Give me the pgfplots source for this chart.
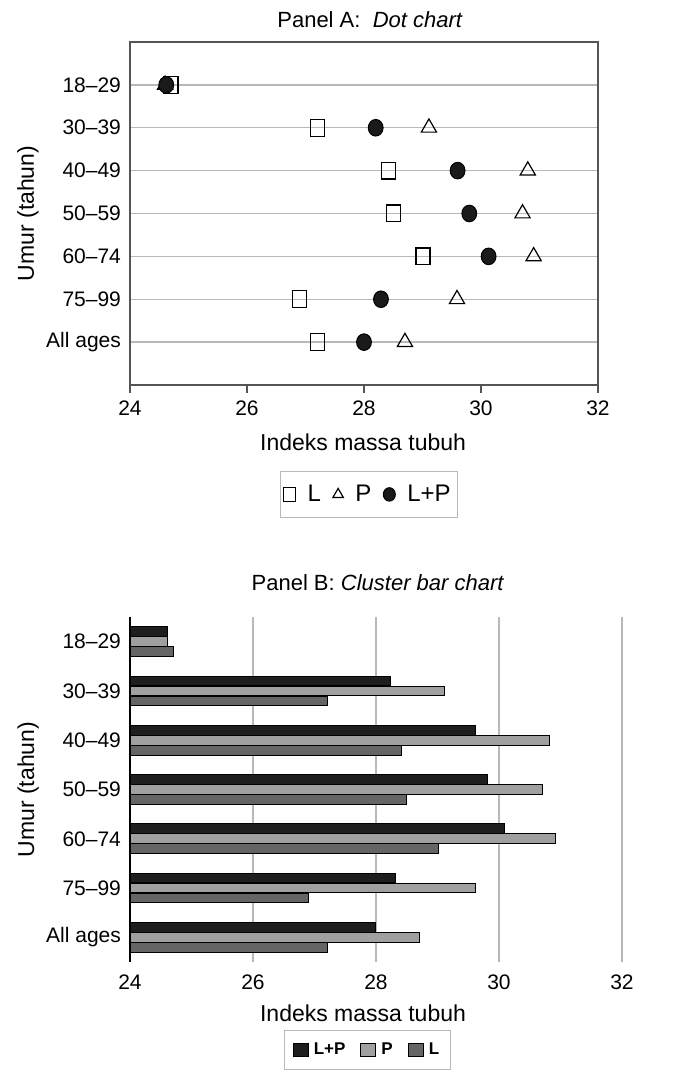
\documentclass[border=0pt]{standalone}
\usepackage{pgfplots}
\pgfplotsset{compat=1.18}
\usepackage{fontspec}
\setmainfont{Liberation Sans}

\definecolor{gridgray}{HTML}{B8B8B8}
\definecolor{framegray}{HTML}{555555}
\definecolor{dotblack}{HTML}{1A1A1A}
\definecolor{barLP}{HTML}{1E1E1E}
\definecolor{barP}{HTML}{A0A0A0}
\definecolor{barL}{HTML}{656565}

\pgfplotsset{
  every tick label/.append style={font=\fontsize{10.5}{12}\selectfont},
  /pgf/number format/assume math mode=true,
  label style={font=\fontsize{11.5}{13}\selectfont},
}

\begin{document}
\begin{tikzpicture}
% page = 700 x 1077 px at 0.5pt per px
\path (0,0) rectangle (350pt,538.5pt);

% ---------------- Panel A ----------------
\begin{axis}[
  at={(65pt,346pt)}, anchor=south west,
  scale only axis, width=234pt, height=171.5pt,
  xmin=24, xmax=32, ymin=-1, ymax=7,
  xtick={24,26,...,32},
  ytick={0,...,6},
  yticklabels={All ages,75–99,60–74,50–59,40–49,30–39,18–29},
  xtick pos=bottom, tick align=outside,
  major tick length=4pt,
  ytick style={draw=none},
  yticklabel style={xshift=3pt},
  xticklabel style={yshift=-0.5pt},
  axis line style={framegray, line width=0.8pt},
  xtick style={framegray, line width=0.8pt},
  ymajorgrids, grid style={gridgray, line width=0.7pt},
  title={Panel A:\ \ \textit{Dot chart}},
  every axis title/.style={font=\fontsize{11}{13}\selectfont,
    at={(axis description cs:0.513,1.064)}, anchor=center},
  xlabel={Indeks massa tubuh},
  xlabel style={at={(axis description cs:0.498,-0.166)}, anchor=center},
  ylabel={Umur (tahun)},
  ylabel style={at={(axis description cs:-0.218,0.5)}, anchor=center},
  legend columns=3,
  legend style={at={(0.511,-0.319)}, anchor=center, draw=gridgray,
    font=\fontsize{12}{14}\selectfont, column sep=4pt,
    inner xsep=1.5pt, inner ysep=4.5pt},
  legend image code/.code={%
    \draw[mark repeat=2,mark phase=2,#1]
      plot coordinates {(0pt,0pt)(4pt,0pt)(8pt,0pt)};},
]
\addplot[only marks, mark=square, mark size=3.5pt,
  mark options={draw=black, fill=white, line width=0.6pt, yscale=1.2},
  legend image post style={mark size=3pt}]
  coordinates {(24.7,6) (27.21,5) (28.42,4) (28.51,3) (29.01,2) (26.9,1) (27.2,0)};
\addlegendentry{L}
\addplot[only marks, mark=triangle, mark size=4.4pt,
  mark options={draw=black, fill=white, line width=0.6pt},
  legend image post style={mark size=3pt}]
  coordinates {(24.6,6) (29.11,5) (30.8,4) (30.71,3) (30.9,2) (29.59,1) (28.7,0)};
\addlegendentry{P}
\addplot[only marks, mark=*, mark size=3.7pt,
  mark options={draw=black, fill=dotblack, line width=0.5pt, yscale=1.12},
  legend image post style={mark size=3pt}]
  coordinates {(24.62,6) (28.2,5) (29.6,4) (29.8,3) (30.13,2) (28.29,1) (28.0,0)};
\addlegendentry{L+P}
\end{axis}

% ---------------- Panel B ----------------
\begin{axis}[
  at={(65pt,57.5pt)}, anchor=south west,
  scale only axis, width=246pt, height=172.5pt,
  xbar, bar width=4.8pt,
  xmin=24, xmax=32, ymin=-0.5, ymax=6.5,
  xtick={24,26,...,32},
  ytick={0,...,6},
  yticklabels={All ages,75–99,60–74,50–59,40–49,30–39,18–29},
  axis lines=left,
  x axis line style={draw=none},
  y axis line style={black, line width=0.8pt, -},
  major tick length=0pt,
  yticklabel style={xshift=-1pt},
  xticklabel style={yshift=-3pt},
  xmajorgrids, grid style={gridgray, line width=0.8pt},
  title={Panel B: \textit{Cluster bar chart}},
  every axis title/.style={font=\fontsize{11}{13}\selectfont,
    at={(axis description cs:0.504,1.099)}, anchor=center},
  xlabel={Indeks massa tubuh},
  xlabel style={at={(axis description cs:0.4736,-0.148)}, anchor=center},
  ylabel={Umur (tahun)},
  ylabel style={at={(axis description cs:-0.207,0.5)}, anchor=center},
  legend columns=3,
  legend style={at={(0.4827,-0.255)}, anchor=center, draw=gridgray,
    font=\fontsize{8.5}{10}\selectfont\bfseries, column sep=1pt,
    /tikz/every even column/.append style={column sep=6pt},
    nodes={inner xsep=1.5pt},
    inner xsep=4pt, inner ysep=4pt},
  legend image code/.code={\fill[#1] (0pt,-3.3pt) rectangle (7.5pt,3.3pt);},
]
\addplot[draw=black, fill=barLP, line width=0.5pt, bar shift=5pt]
  coordinates {(24.61,6) (28.23,5) (29.61,4) (29.81,3) (30.09,2) (28.31,1) (28.0,0)};
\addlegendentry{L+P}
\addplot[draw=black, fill=barP, line width=0.5pt, bar shift=0pt]
  coordinates {(24.61,6) (29.11,5) (30.82,4) (30.7,3) (30.92,2) (29.61,1) (28.7,0)};
\addlegendentry{P}
\addplot[draw=black, fill=barL, line width=0.5pt, bar shift=-5pt]
  coordinates {(24.7,6) (27.21,5) (28.41,4) (28.5,3) (29.01,2) (26.91,1) (27.21,0)};
\addlegendentry{L}
\end{axis}
\end{tikzpicture}
\end{document}
